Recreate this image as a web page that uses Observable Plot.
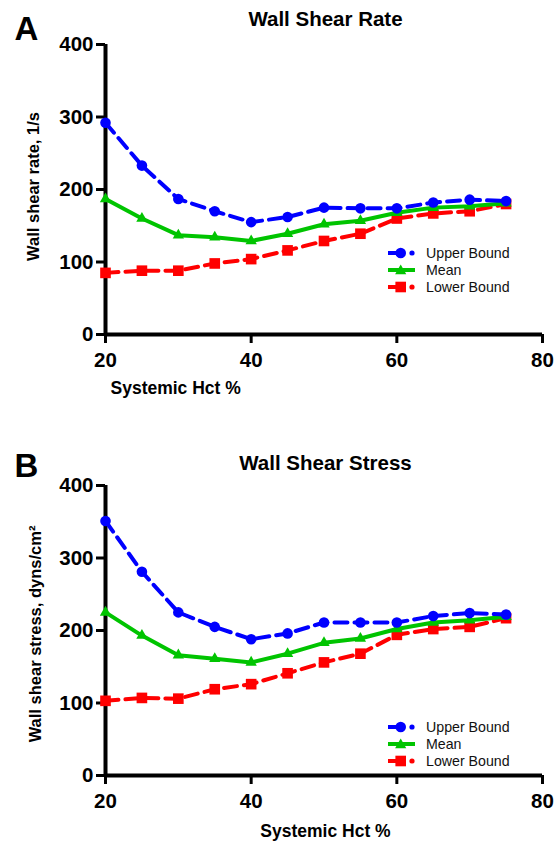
<!DOCTYPE html>
<html>
<head>
<meta charset="utf-8">
<script src="https://cdn.jsdelivr.net/npm/d3@7"></script>
<script src="https://cdn.jsdelivr.net/npm/@observablehq/plot@0.6"></script>
<style>
  html, body { margin: 0; padding: 0; background: #fff; }
  #wrap { position: relative; width: 554px; height: 841px; font-family: "Liberation Sans", Arial, Helvetica, sans-serif; }
  #wrap svg.plot { position: absolute; left: 0; }
  .legend { position: absolute; left: 388px; font-size: 14.2px; color: #111; }
  .legend .row { display: flex; align-items: center; height: 17px; }
  .legend svg { width: 38px; height: 14px; flex: none; }
</style>
</head>
<body>
<div id="wrap"></div>
<script>
// ---- data ----
const hct = [20, 25, 30, 35, 40, 45, 50, 55, 60, 65, 70, 75];
const rateUpper = [292, 233, 187, 170, 155, 162, 175, 174, 174, 182, 186, 184];
const rateMean  = [187, 160, 137, 134, 129, 139, 152, 157, 168, 175, 177, 181];
const rateLower = [85, 88, 88, 98, 104, 116, 129, 139, 160, 167, 170, 180];
const stressUpper = [351, 281, 225, 205, 188, 196, 211, 211, 211, 220, 224, 222];
const stressMean  = [225, 193, 166, 161, 156, 168, 183, 189, 202, 211, 214, 219];
const stressLower = [103, 107, 106, 119, 126, 141, 156, 168, 194, 202, 205, 217];
const xTicks = [20, 40, 60, 80];
const yTicks = [0, 100, 200, 300, 400];
const seriesNames = ["Upper Bound", "Mean", "Lower Bound"];
const colors = {"Upper Bound": "#0000ff", "Mean": "#00c400", "Lower Bound": "#ff0000"};

const FONT = '"Liberation Sans", Arial, Helvetica, sans-serif';

function toRows(up, mean, low) {
  return hct.map((h, i) => ({h, up: up[i], mean: mean[i], low: low[i]}));
}

function panel(cfg) {
  const rows = toRows(cfg.up, cfg.mean, cfg.low);
  const frameH = 290;
  const height = cfg.marginTop + frameH + cfg.marginBottom;
  const svg = Plot.plot({
    width: 554,
    height,
    marginLeft: 105,
    marginRight: 12,
    marginTop: cfg.marginTop,
    marginBottom: cfg.marginBottom,
    x: {domain: [20, 80]},
    y: {domain: [0, 400]},
    style: {fontFamily: FONT, fontSize: "20.5px", fontWeight: "bold", color: "#000", background: "transparent", overflow: "visible"},
    marks: [
      Plot.axisX({ticks: xTicks, tickSize: 9, tickPadding: 9, strokeWidth: 3, label: null, fontSize: 20.5}),
      Plot.axisY({ticks: yTicks, tickSize: 9, tickPadding: 3, strokeWidth: 3, label: null, fontSize: 20.5}),
      Plot.ruleX([20], {strokeWidth: 4}),
      Plot.ruleY([0], {strokeWidth: 4}),
      // lower bound
      Plot.line(rows, {x: "h", y: "low", stroke: colors["Lower Bound"], strokeWidth: 4, strokeDasharray: "13,7"}),
      Plot.dot(rows, {x: "h", y: "low", symbol: "square", r: 6, fill: colors["Lower Bound"], stroke: null}),
      // mean
      Plot.line(rows, {x: "h", y: "mean", stroke: colors["Mean"], strokeWidth: 4}),
      Plot.dot(rows, {x: "h", y: "mean", symbol: "triangle", r: 4.2, fill: colors["Mean"], stroke: null}),
      // upper bound
      Plot.line(rows, {x: "h", y: "up", stroke: colors["Upper Bound"], strokeWidth: 4, strokeDasharray: "13,7"}),
      Plot.dot(rows, {x: "h", y: "up", symbol: "circle", r: 5.3, fill: colors["Upper Bound"], stroke: null}),
      // texts
      Plot.text([cfg.title], {frameAnchor: "top", text: d => d, dx: 1.5, dy: cfg.titleDy, lineAnchor: "bottom", fontSize: 20.5, fontWeight: "bold"}),
      Plot.text([cfg.letter], {frameAnchor: "top-left", text: d => d, dx: -91, dy: cfg.letterDy, lineAnchor: "bottom", textAnchor: "start", fontSize: 33, fontWeight: "bold"}),
      Plot.text([cfg.ylabel], {frameAnchor: "left", text: d => d, dx: cfg.ylabelDx, dy: cfg.ylabelDy, rotate: -90, lineAnchor: "bottom", textAnchor: "middle", fontSize: 16.5, fontWeight: "bold"}),
      Plot.text(["Systemic Hct %"], {frameAnchor: cfg.xlabelAnchor, text: d => d, dx: cfg.xlabelDx, dy: cfg.xlabelDy, lineAnchor: "bottom", textAnchor: cfg.xlabelTextAnchor, fontSize: 17.5, fontWeight: "bold"})
    ]
  });
  svg.classList.add("plot");
  svg.style.top = cfg.top + "px";
  return svg;
}

function legend(top) {
  const div = document.createElement("div");
  div.className = "legend";
  div.style.top = top + "px";
  for (const name of seriesNames) {
    const row = document.createElement("div");
    row.className = "row";
    const c = colors[name];
    let sw;
    if (name === "Mean") {
      sw = `<svg viewBox="0 0 38 14"><line x1="0" x2="27" y1="7" y2="7" stroke="${c}" stroke-width="4"/><path d="M12.7,1.6 L18.3,11.2 L7.1,11.2 Z" fill="${c}"/></svg>`;
    } else if (name === "Upper Bound") {
      sw = `<svg viewBox="0 0 38 14"><line x1="0" x2="11" y1="7" y2="7" stroke="${c}" stroke-width="4"/><circle cx="12.7" cy="7" r="5.3" fill="${c}"/><circle cx="24" cy="7" r="2.6" fill="${c}"/></svg>`;
    } else {
      sw = `<svg viewBox="0 0 38 14"><line x1="0" x2="11" y1="7" y2="7" stroke="${c}" stroke-width="4"/><rect x="7.4" y="1.7" width="10.6" height="10.6" fill="${c}"/><circle cx="24" cy="7" r="2.6" fill="${c}"/></svg>`;
    }
    row.innerHTML = sw + `<span>${name}</span>`;
    div.appendChild(row);
  }
  return div;
}

const wrap = document.getElementById("wrap");
wrap.appendChild(panel({
  top: 0, marginTop: 44, marginBottom: 86,
  up: rateUpper, mean: rateMean, low: rateLower,
  title: "Wall Shear Rate", titleDy: -18.5,
  letter: "A", letterDy: -5,
  ylabel: "Wall shear rate, 1/s", ylabelDx: -67, ylabelDy: -3,
  xlabelAnchor: "bottom-left", xlabelDx: 5, xlabelDy: 59, xlabelTextAnchor: "start"
}));
wrap.appendChild(panel({
  top: 420, marginTop: 65, marginBottom: 66,
  up: stressUpper, mean: stressMean, low: stressLower,
  title: "Wall Shear Stress", titleDy: -16,
  letter: "B", letterDy: -9,
  ylabel: "Wall shear stress, dyns/cm²", ylabelDx: -65, ylabelDy: 3.5,
  xlabelAnchor: "bottom", xlabelDx: 1.5, xlabelDy: 61, xlabelTextAnchor: "middle"
}));
wrap.appendChild(legend(244));
wrap.appendChild(legend(718));
</script>
</body>
</html>
